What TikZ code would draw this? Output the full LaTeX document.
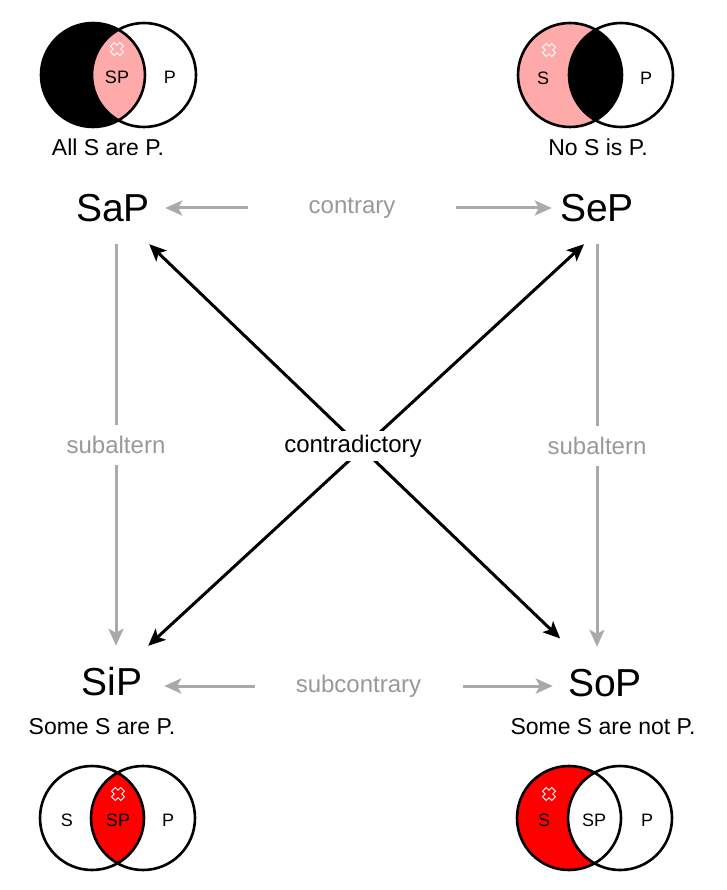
\documentclass[tikz,border=0pt]{standalone}
\usepackage{fontspec}
\setmainfont{Liberation Sans}
\usepackage{xcolor}
\usetikzlibrary{arrows.meta, positioning, calc}

\definecolor{pinkfill}{HTML}{FFAAAA}
\definecolor{redfill}{HTML}{FF0000}
\definecolor{linegray}{HTML}{AAAAAA}
\definecolor{textgray}{HTML}{999999}

\tikzset{
  >={Stealth[length=17pt,width=15pt,inset=4pt]},
  bigtxt/.style={font=\fontsize{39}{42}\selectfont, minimum width=90, minimum height=72, inner sep=0pt},
  captxt/.style={font=\fontsize{23}{26}\selectfont, inner sep=0pt},
  venntxt/.style={font=\fontsize{18}{20}\selectfont, inner sep=0pt},
  graylbl/.style={font=\fontsize{24}{27}\selectfont, text=textgray, fill=white, inner sep=0pt},
  grayarrow/.style={draw=linegray, line width=3pt, ->},
  blackarrow/.style={draw=black, line width=3pt, <->},
  vennline/.style={draw=black, line width=2.6pt},
  xcross/.pic={\draw[white, line width=0.9pt, rotate=45]
    (-2.6,-6.5)--(2.6,-6.5)--(2.6,-2.6)--(6.5,-2.6)--(6.5,2.6)--(2.6,2.6)--(2.6,6.5)
    --(-2.6,6.5)--(-2.6,2.6)--(-6.5,2.6)--(-6.5,-2.6)--(-2.6,-2.6)--cycle;}
}

\begin{document}
\begin{tikzpicture}[x=1pt, y=-1pt]
\useasboundingbox (0,0) rectangle (726,890);

% venn fills
\begin{scope}
  \clip (93,75) circle (52);
  \fill[black] (93,75) circle (52);
  \fill[pinkfill] (144,75) circle (52);
\end{scope}
\fill[pinkfill] (570,75) circle (52);
\begin{scope}
  \clip (570,75) circle (52);
  \fill[black] (621,75) circle (52);
\end{scope}
\begin{scope}
  \clip (92,818) circle (52);
  \fill[redfill] (143,818) circle (52);
\end{scope}
\fill[redfill] (569,818) circle (52);
\begin{scope}
  \clip (569,818) circle (52);
  \fill[white] (620,818) circle (52);
\end{scope}
\foreach \cx/\cy in {93/75, 570/75, 92/818, 569/818}
  \draw[vennline] (\cx,\cy) circle (52) (\cx+51,\cy) circle (52);

\pic at (117,49) {xcross};
\pic at (549,50) {xcross};
\pic at (118,794) {xcross};
\pic at (549,794) {xcross};

\node[venntxt] (aSP) at (117,77) {SP};
\node[venntxt] (aP) at (170,77) {P};
\node[venntxt] (eS) at (543,78) {S};
\node[venntxt] (eP) at (646,78) {P};
\node[venntxt] (iS) at (67,820) {S};
\node[venntxt] (iSP) at (118,820) {SP};
\node[venntxt] (iP) at (168,820) {P};
\node[venntxt] (oS) at (544,820) {S};
\node[venntxt] (oSP) at (594,820) {SP};
\node[venntxt] (oP) at (647,820) {P};

\node[captxt] (allcap) at (108,147) {All S are P.};
\node[captxt] (nocap) at (598,147) {No S is P.};
\node[captxt] (somecap) at (102,727) {Some S are P.};
\node[captxt] (notcap) at (603,727) {Some S are not P.};

% square of opposition
\node[bigtxt] (SaP) at (113,208) {SaP};
\node[bigtxt] (SeP) at (597,208) {SeP};
\node[bigtxt] (SiP) at (112,682) {SiP};
\node[bigtxt] (SoP) at (605,683) {SoP};

\draw[grayarrow, <->, shorten <=7pt]
  (SaP) -- node[graylbl, minimum width=208, minimum height=30, xshift=-3pt] {contrary} (SeP);
\draw[grayarrow, <->, shorten <=7pt, shorten >=7pt]
  (SiP.east |- 0,686) -- node[graylbl, minimum width=208, minimum height=30] {subcontrary} (SoP.west |- 0,686);
\draw[grayarrow] ([xshift=3pt]SaP.south) -- node[graylbl, minimum height=40, minimum width=110] {subaltern} ([xshift=3pt]SaP.south |- SiP.north);
\draw[grayarrow] (SeP.south) -- node[graylbl, minimum height=40, minimum width=110] {subaltern} (SeP.south |- SoP.north);

\draw[blackarrow, shorten >=12pt] (SaP.-45) -- (SoP.135);
\draw[blackarrow] (SiP.45) -- ([xshift=-13pt]SeP.south);
\node[fill=white, font=\fontsize{24}{27}\selectfont, inner sep=4pt] (contra) at (353,446) {contradictory};
\end{tikzpicture}
\end{document}
